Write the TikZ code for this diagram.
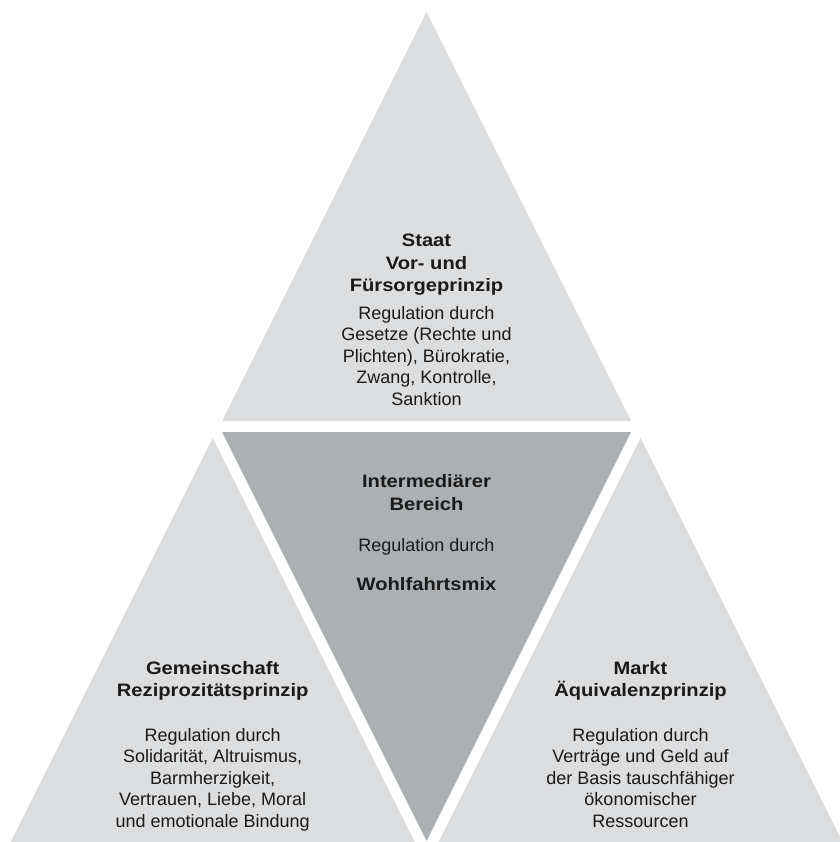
\documentclass[tikz,border=0pt]{standalone}
\usepackage{fontspec}
\setmainfont{Liberation Sans}
\newfontfamily\titlefont[FakeStretch=1.12]{Liberation Sans}
\definecolor{lightgr}{HTML}{DCDDDF}
\definecolor{darkgr}{HTML}{ADB0B2}
\definecolor{txt}{HTML}{1A1A1A}
\begin{document}
\begin{tikzpicture}[x=1pt,y=-1pt,
  titletext/.style={font=\titlefont\bfseries\fontsize{18}{22.7}\selectfont, align=center, text=txt, inner sep=0pt, anchor=base},
  bodytext/.style={font=\fontsize{18}{21.5}\selectfont, align=center, text=txt, inner sep=0pt, anchor=base}]
\useasboundingbox (0,0) rectangle (839,842);
% triangles
\fill[lightgr] (426.5,12) -- (631,421) -- (222,421) -- cycle;
\fill[darkgr] (222,432) -- (631,432) -- (426.5,841) -- cycle;
\fill[lightgr] (212.7,438) -- (414.7,842) -- (10.7,842) -- cycle;
\fill[lightgr] (640.5,438) -- (842.5,842) -- (438.5,842) -- cycle;
% top (anchor = baseline of the last line)
\node[titletext] (staat) at (426.5,291.7) {Staat\\Vor- und\\Fürsorgeprinzip};
\node[bodytext] (staatreg) at (426.5,405) {Regulation durch\\Gesetze (Rechte und\\Plichten), Bürokratie,\\Zwang, Kontrolle,\\Sanktion};
% middle
\node[titletext] (inter) at (426.5,510) {Intermediärer\\Bereich};
\node[bodytext] (interreg) at (426.5,551.7) {Regulation durch};
\node[titletext] (mix) at (426.5,590) {Wohlfahrtsmix};
% left
\node[titletext] (gem) at (212.7,696.7) {Gemeinschaft\\Reziprozitätsprinzip};
\node[bodytext] (gemreg) at (212.7,827) {Regulation durch\\Solidarität, Altruismus,\\Barmherzigkeit,\\Vertrauen, Liebe, Moral\\und emotionale Bindung};
% right
\node[titletext] (markt) at (640.5,696.7) {Markt\\Äquivalenzprinzip};
\node[bodytext] (marktreg) at (640.5,827) {Regulation durch\\Verträge und Geld auf\\der Basis tauschfähiger\\ökonomischer\\Ressourcen};
\end{tikzpicture}
\end{document}
